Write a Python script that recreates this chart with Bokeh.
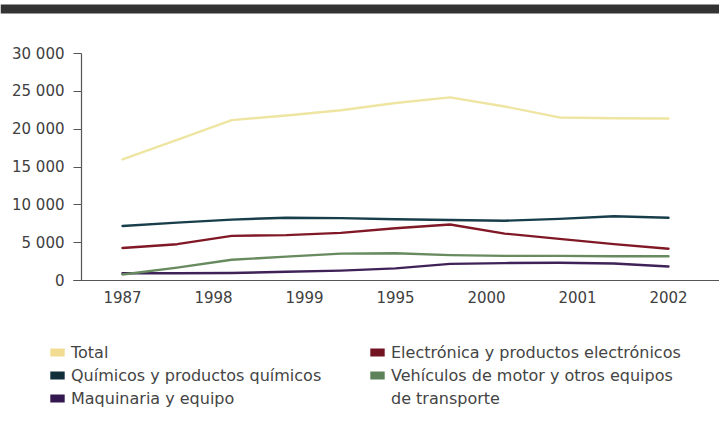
from bokeh.plotting import figure
from bokeh.models import Range1d, FixedTicker, Legend, LegendItem, BoxAnnotation
from bokeh.embed import file_html
from bokeh.resources import INLINE

# ---- data ----
years = ["1987", "1998", "1999", "1995", "2000", "2001", "2002"]
y_ticks = [0, 5000, 10000, 15000, 20000, 25000, 30000]
y_tick_labels = ["0", "5 000", "10 000", "15 000", "20 000", "25 000", "30 000"]

series_names = [
    "Total",
    "Químicos y productos químicos",
    "Maquinaria y equipo",
    "Electrónica y productos electrónicos",
    "Vehículos de motor y otros equipos\nde transporte",
]
total = [16000, 18600, 21200, 21800, 22500, 23450, 24200, 23000, 21550, 21450, 21400]
quimicos = [7200, 7650, 8050, 8300, 8250, 8100, 8000, 7900, 8150, 8500, 8300]
maquinaria = [950, 950, 1000, 1150, 1300, 1600, 2200, 2300, 2350, 2250, 1850]
electronica = [4300, 4800, 5900, 6000, 6300, 6900, 7400, 6200, 5500, 4800, 4200]
vehiculos = [800, 1700, 2750, 3150, 3550, 3600, 3350, 3250, 3250, 3200, 3200]
series_values = [total, quimicos, maquinaria, electronica, vehiculos]
colors = ["#efe5a2", "#173e4a", "#3f2258", "#801826", "#678a5f"]
swatch_colors = ["#f2dc92", "#112f3b", "#33194f", "#731322", "#5e825a"]

# samples are evenly spaced along the year axis
n = len(total)
xs = [i * (len(years) - 1) / (n - 1) for i in range(n)]

FONT = "DejaVu Sans"
W, H = 719, 423

# ---- pixel layout of the chart area ----
X0_PX, X_STEP_PX = 122, 91          # first category position, spacing between categories
Y0_PX, YTOP_PX = 280, 53            # pixel rows of 0 and of the top tick
YAXIS_PX, XAXIS_START_PX = 81, 73
ymax = y_ticks[-1]
ppu = (Y0_PX - YTOP_PX) / ymax      # pixels per unit on y

x_start = -X0_PX / X_STEP_PX
x_end = (len(years) - 1) + (W - (X0_PX + X_STEP_PX * (len(years) - 1))) / X_STEP_PX
y_start = -(H - Y0_PX) / ppu
y_end = ymax + YTOP_PX / ppu

p = figure(width=W, height=H, min_border=0,
           min_border_left=0, min_border_right=0, min_border_top=0, min_border_bottom=0,
           x_range=Range1d(x_start, x_end), y_range=Range1d(y_start, y_end),
           output_backend="svg", toolbar_location=None)
p.outline_line_color = None
p.xgrid.grid_line_color = None
p.ygrid.grid_line_color = None
p.background_fill_color = "white"
p.border_fill_color = "white"

# dark band at the very top of the page
p.add_layout(BoxAnnotation(top=4, bottom=13, top_units="canvas", bottom_units="canvas",
                           fill_color="#333333", fill_alpha=1.0, line_color=None,
                           level="overlay"))

swatches = []
for vals, col, scol in zip(series_values, colors, swatch_colors):
    p.line(xs, vals, line_color=col, line_width=2.4, line_join="round", line_cap="round")
    # zero-area helper renderer, used only to give the legend a filled swatch
    swatches.append(p.quad(left=[xs[0]], right=[xs[0]], top=[0], bottom=[0],
                           fill_color=scol, line_color=None))
blank = p.quad(left=[xs[0]], right=[xs[0]], top=[0], bottom=[0],
               fill_alpha=0, line_color=None)

# axes drawn at fixed positions inside the frame
p.xaxis.fixed_location = 0
p.xaxis.bounds = ((XAXIS_START_PX - X0_PX) / X_STEP_PX, x_end)
p.yaxis.fixed_location = (YAXIS_PX - X0_PX) / X_STEP_PX
p.yaxis.bounds = (0, ymax)

p.xaxis.ticker = FixedTicker(ticks=list(range(len(years))))
p.xaxis.major_label_overrides = {i: yr for i, yr in enumerate(years)}
p.yaxis.ticker = FixedTicker(ticks=y_ticks)
p.yaxis.major_label_overrides = dict(zip(y_ticks, y_tick_labels))

for ax in (p.xaxis[0], p.yaxis[0]):
    ax.axis_line_color = "#555555"
    ax.axis_line_width = 1.2
    ax.major_label_text_font = FONT
    ax.major_label_text_font_size = "15px"
    ax.major_label_text_color = "#404040"
    ax.minor_tick_line_color = None

p.xaxis.major_tick_line_color = None
p.xaxis.major_tick_out = 0
p.xaxis.major_tick_in = 0
p.xaxis.major_label_standoff = 10

p.yaxis.major_tick_line_color = "#555555"
p.yaxis.major_tick_line_width = 1.2
p.yaxis.major_tick_out = 8
p.yaxis.major_tick_in = 0
p.yaxis.major_label_standoff = 9

# ---- legend: two columns of three rows below the chart ----
items = []
for name, r in zip(series_names, swatches):
    parts = name.split("\n")
    items.append(LegendItem(label=parts[0], renderers=[r]))
    for cont in parts[1:]:
        items.append(LegendItem(label=cont, renderers=[blank]))

ROW_H, ROW_GAP = 19, 4
legend_h = 3 * ROW_H + 2 * ROW_GAP
legend_top_px = 342.5
col_left_px = [48, 368]
for c, left in enumerate(col_left_px):
    lg = Legend(items=items[3 * c: 3 * c + 3],
                location=(left, H - legend_top_px - legend_h), orientation="vertical",
                padding=0, margin=0, spacing=ROW_GAP,
                glyph_width=18, glyph_height=10, label_standoff=5, label_height=ROW_H,
                label_text_font=FONT, label_text_font_size="16px", label_text_color="#444444",
                border_line_color=None, background_fill_alpha=0.0)
    p.add_layout(lg, "center")

open("out.html", "w").write(file_html(p, INLINE))
